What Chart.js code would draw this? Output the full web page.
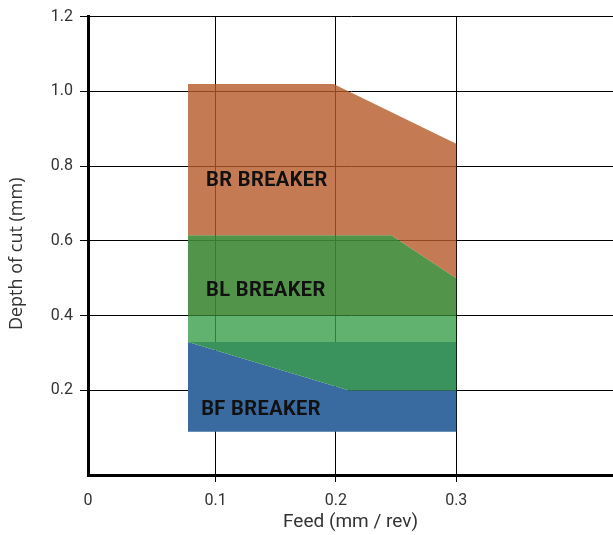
<!DOCTYPE html>
<html>
<head>
<meta charset="utf-8">
<script src="https://cdn.jsdelivr.net/npm/chart.js@4.4.0/dist/chart.umd.min.js"></script>
<style>
html, body { margin: 0; padding: 0; background: #fff; }
</style>
</head>
<body>
<canvas id="chart" width="613" height="535"></canvas>
<script>
// breaker zones: feed (mm/rev) vs depth of cut (mm)
// each zone is a closed outline, feed and depth listed point by point
const brFeed = [0.077, 0.077, 0.198, 0.3, 0.3, 0.246];
const brDepth = [0.615, 1.02, 1.02, 0.86, 0.5, 0.615];

const blFeed = [0.077, 0.077, 0.246, 0.3, 0.3];
const blDepth = [0.4, 0.615, 0.615, 0.5, 0.4];

// band where BL and BF overlap
const overlapFeed = [0.077, 0.077, 0.3, 0.3];
const overlapDepth = [0.33, 0.4, 0.4, 0.33];

const lowFeed = [0.077, 0.3, 0.3, 0.211];
const lowDepth = [0.33, 0.33, 0.2, 0.2];

const bfFeed = [0.077, 0.077, 0.211, 0.3, 0.3];
const bfDepth = [0.09, 0.33, 0.2, 0.2, 0.09];

const xTicks = [0.1, 0.2, 0.3];
const yTicks = [0.2, 0.4, 0.6, 0.8, 1.0, 1.2];

const zoneNames = ['BR BREAKER', 'BL BREAKER', 'BF BREAKER'];
const nameFeed = [0.092, 0.092, 0.088];
const nameDepth = [0.76, 0.467, 0.149];

const xMin = -0.0061, xMax = 0.4303;
const yMin = -0.026, yMax = 1.2;

function toPoints(xs, ys) {
    return xs.map((x, i) => ({ x: x, y: ys[i] }));
}

function zone(label, xs, ys, color) {
    return {
        label: label,
        data: toPoints(xs, ys),
        fill: 'shape',
        backgroundColor: color,
        borderWidth: 0,
        pointRadius: 0,
        tension: 0
    };
}

// zone names written inside the areas
const zoneText = {
    id: 'zoneText',
    afterDatasetsDraw(chart) {
        const ctx = chart.ctx;
        const xs = chart.scales.x, ys = chart.scales.y;
        ctx.save();
        ctx.font = 'bold 20px Roboto';
        ctx.letterSpacing = '0.4px';
        ctx.fillStyle = '#111';
        ctx.textAlign = 'left';
        ctx.textBaseline = 'middle';
        zoneNames.forEach((name, i) => {
            ctx.fillText(name, xs.getPixelForValue(nameFeed[i]), ys.getPixelForValue(nameDepth[i]));
        });
        ctx.restore();
    }
};

// axis titles
const axisTitles = {
    id: 'axisTitles',
    afterDraw(chart) {
        const ctx = chart.ctx;
        const area = chart.chartArea;
        ctx.save();
        ctx.fillStyle = '#333';
        ctx.textAlign = 'center';
        ctx.textBaseline = 'middle';
        ctx.font = '19px Roboto';
        ctx.fillText('Feed (mm / rev)', (area.left + area.right) / 2, area.bottom + 47);
        ctx.translate(17, (area.top + area.bottom) / 2 + 8);
        ctx.rotate(-Math.PI / 2);
        ctx.font = '18px "Open Sans"';
        ctx.fillText('Depth of cut (mm)', 0, 0);
        ctx.restore();
    }
};

new Chart(document.getElementById('chart'), {
    type: 'line',
    data: {
        datasets: [
            zone('BR BREAKER', brFeed, brDepth, 'rgba(181, 89, 39, 0.8)'),
            zone('BL BREAKER', blFeed, blDepth, 'rgba(63, 138, 54, 0.9)'),
            zone('BL / BF', overlapFeed, overlapDepth, 'rgba(59, 159, 75, 0.8)'),
            zone('BF / BL', lowFeed, lowDepth, '#3a925c'),
            zone('BF BREAKER', bfFeed, bfDepth, '#396ba0')
        ]
    },
    options: {
        responsive: false,
        animation: false,
        devicePixelRatio: 1,
        layout: { padding: { top: 14, right: 0, bottom: 0, left: 0 } },
        plugins: {
            legend: { display: false },
            tooltip: { enabled: false }
        },
        scales: {
            x: {
                type: 'linear',
                min: xMin,
                max: xMax,
                afterBuildTicks: s => { s.ticks = [xMin].concat(xTicks).map(v => ({ value: v })); },
                afterFit: s => { s.height = 60; },
                ticks: {
                    autoSkip: false,
                    maxRotation: 0,
                    padding: 9,
                    color: '#333',
                    font: { family: 'Roboto', size: 16 },
                    callback: (v, i) => i === 0 ? '0' : v.toFixed(1)
                },
                grid: {
                    color: c => c.index === 0 ? 'rgba(0,0,0,0)' : '#000',
                    lineWidth: 1,
                    tickLength: 7
                },
                border: { display: true, color: '#000', width: 3 }
            },
            y: {
                type: 'linear',
                min: yMin,
                max: yMax,
                afterBuildTicks: s => { s.ticks = yTicks.map(v => ({ value: v })); },
                afterFit: s => { s.width = 88; },
                ticks: {
                    padding: 7,
                    color: '#333',
                    font: { family: 'Roboto', size: 16 },
                    callback: v => v.toFixed(1)
                },
                grid: {
                    color: '#000',
                    lineWidth: 1,
                    tickLength: 8
                },
                border: { display: true, color: '#000', width: 3 }
            }
        }
    },
    plugins: [zoneText, axisTitles]
});
</script>
</body>
</html>
